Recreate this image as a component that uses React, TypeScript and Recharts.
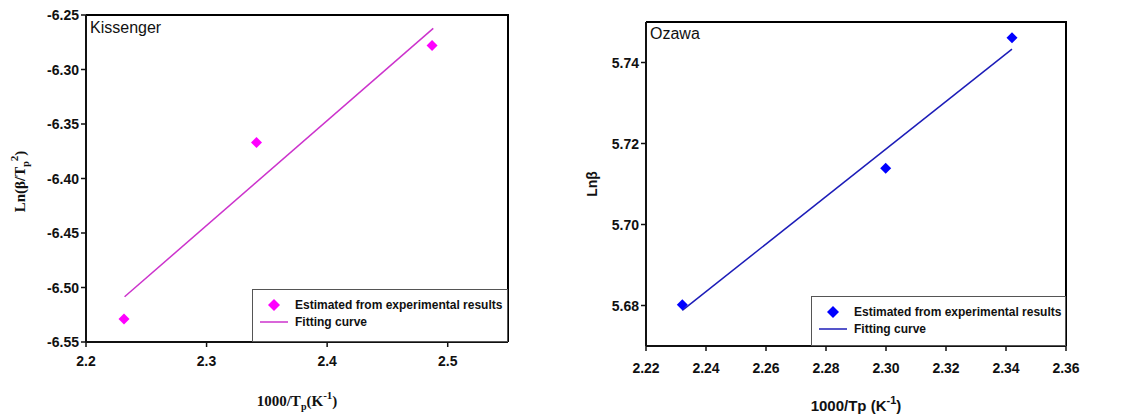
import React from 'react';
import { ComposedChart, Scatter, XAxis, YAxis, ReferenceArea, Legend, Label } from 'recharts';

// Kissenger plot
const kissX = [2.2315, 2.3414, 2.487];
const kissY = [-6.529, -6.367, -6.278];
const kissFitX = [2.232, 2.488];
const kissFitY = [-6.5085, -6.2623];
const kissXTicks = [2.2, 2.3, 2.4, 2.5];
const kissYTicks = [-6.55, -6.5, -6.45, -6.4, -6.35, -6.3, -6.25];

// Ozawa plot
const ozawaX = [2.2321, 2.2999, 2.342];
const ozawaY = [5.6802, 5.7139, 5.7461];
const ozawaFitX = [2.2321, 2.342];
const ozawaFitY = [5.6788, 5.7433];
const ozawaXTicks = [2.22, 2.24, 2.26, 2.28, 2.3, 2.32, 2.34, 2.36];
const ozawaYTicks = [5.68, 5.7, 5.72, 5.74];

const seriesNames = ['Estimated from experimental results', 'Fitting curve'];

const toPoints = (xs: number[], ys: number[]) => xs.map((x, i) => ({ x, y: ys[i] }));

const SANS = '"Liberation Sans", Arial, sans-serif';
const SERIF = '"Liberation Serif", "Times New Roman", serif';

const Diamond = (color: string) => (props: any) => {
  const { cx, cy } = props;
  const r = 5.5;
  return <polygon points={`${cx},${cy - r} ${cx + r},${cy} ${cx},${cy + r} ${cx - r},${cy}`} fill={color} />;
};

const NoDot = () => <g />;

// top and right edges of the plot box
const Frame = (props: any) => {
  const { x, y, width, height } = props;
  return (
    <path
      d={`M${x},${y} L${x + width},${y} L${x + width},${y + height}`}
      fill="none"
      stroke="#000"
      strokeWidth={2}
    />
  );
};

// bold tick text, decimals depend on axis
const BoldTick = (digits: number, axis: 'x' | 'y') => (props: any) => {
  const { x, y, payload } = props;
  const label = Number(payload.value).toFixed(digits);
  if (axis === 'x') {
    return (
      <text x={x} y={y} dy="0.71em" textAnchor="middle" fontFamily={SANS} fontWeight="bold" fontSize={14} fill="#111">
        {label}
      </text>
    );
  }
  return (
    <text x={x} y={y} dy="0.36em" textAnchor="end" fontFamily={SANS} fontWeight="bold" fontSize={14} fill="#111">
      {label}
    </text>
  );
};

const LegendBox = (props: any) => {
  const payload = [...(props.payload || [])].sort((a: any) => (a.type === 'line' ? 1 : -1));
  return (
    <div
      style={{
        boxSizing: 'border-box',
        width: '100%',
        height: '100%',
        border: '1.5px solid #555',
        background: '#fff',
        paddingTop: 7,
        fontFamily: SANS,
        fontWeight: 'bold',
        fontSize: 12,
        color: '#111',
      }}
    >
      {payload.map((p: any) => (
        <div key={p.value} style={{ display: 'flex', alignItems: 'center', height: 16.5 }}>
          <svg width={42} height={16} style={{ flex: 'none' }}>
            {p.type === 'line' ? (
              <line x1={7} x2={35} y1={8} y2={8} stroke={p.color} strokeWidth={1.5} />
            ) : (
              <polygon points="21,2 27,8 21,14 15,8" fill={p.color} />
            )}
          </svg>
          <span style={{ whiteSpace: 'nowrap' }}>{p.value}</span>
        </div>
      ))}
    </div>
  );
};

const Title = (text: string, dy: number) => (props: any) => {
  const { x, y } = props.viewBox;
  return (
    <text x={x + 4} y={y + dy} fontFamily={SANS} fontSize={16} fill="#111">
      {text}
    </text>
  );
};

const KissXLabel = (props: any) => {
  const { x, y, width } = props.viewBox;
  return (
    <text x={x + width / 2} y={y + 64} textAnchor="middle" fontFamily={SERIF} fontWeight="bold" fontSize={15} fill="#111">
      1000/T<tspan fontSize={10} dy={4}>p</tspan>
      <tspan dy={-4}>(K</tspan>
      <tspan fontSize={11} dy={-7}>-1</tspan>
      <tspan dy={7}>)</tspan>
    </text>
  );
};

const KissYLabel = (props: any) => {
  const { x, y, height } = props.viewBox;
  const cx = x + 9;
  const cy = y + height / 2 + 3;
  return (
    <text x={cx} y={cy} transform={`rotate(-90, ${cx}, ${cy})`} textAnchor="middle" fontFamily={SERIF} fontWeight="bold" fontSize={15} fill="#111">
      Ln(β/T<tspan fontSize={10} dy={4}>p</tspan>
      <tspan fontSize={11} dy={-11}>2</tspan>
      <tspan dy={7}>)</tspan>
    </text>
  );
};

const OzawaXLabel = (props: any) => {
  const { x, y, width } = props.viewBox;
  return (
    <text x={x + width / 2} y={y + 65} textAnchor="middle" fontFamily={SANS} fontWeight="bold" fontSize={15} fill="#111">
      1000/Tp (K<tspan fontSize={11} dy={-7}>-1</tspan>
      <tspan dy={7}>)</tspan>
    </text>
  );
};

const OzawaYLabel = (props: any) => {
  const { x, y, height } = props.viewBox;
  const cx = x + 21;
  const cy = y + height / 2;
  return (
    <text x={cx} y={cy} transform={`rotate(-90, ${cx}, ${cy})`} textAnchor="middle" fontFamily={SANS} fontWeight="bold" fontSize={14} fill="#111">
      Lnβ
    </text>
  );
};

const frameAxis = { stroke: '#111', strokeWidth: 2 };
const tickLn = { stroke: '#111', strokeWidth: 1.5 };

const App = () => {
  const kissPts = toPoints(kissX, kissY);
  const kissFit = toPoints(kissFitX, kissFitY);
  const ozawaPts = toPoints(ozawaX, ozawaY);
  const ozawaFit = toPoints(ozawaFitX, ozawaFitY);

  return (
    <div style={{ position: 'absolute', left: 0, top: 0, width: 1122, height: 417, background: '#fff' }}>
      <div style={{ position: 'absolute', left: 0, top: 0, width: 560, height: 417 }}>
        <ComposedChart width={560} height={417} margin={{ top: 15, right: 52, left: 16, bottom: 45 }}>
          <XAxis
            type="number"
            dataKey="x"
            domain={[2.2, 2.55]}
            ticks={kissXTicks}
            tick={BoldTick(1, 'x')}
            tickSize={5}
            tickMargin={9}
            height={30}
            axisLine={frameAxis}
            tickLine={tickLn}
            allowDataOverflow
          >
            <Label content={KissXLabel} />
          </XAxis>
          <YAxis
            type="number"
            dataKey="y"
            domain={[-6.55, -6.25]}
            ticks={kissYTicks}
            tick={BoldTick(2, 'y')}
            tickSize={5}
            width={70}
            axisLine={frameAxis}
            tickLine={tickLn}
            allowDataOverflow
          >
            <Label content={KissYLabel} />
          </YAxis>
          <ReferenceArea x1={2.2} x2={2.55} y1={-6.55} y2={-6.25} shape={Frame} ifOverflow="visible" label={Title('Kissenger', 18)} />
          <Scatter
            name={seriesNames[1]}
            data={kissFit}
            fill="#cc33cc"
            line={{ stroke: '#cc33cc', strokeWidth: 1.5 }}
            shape={NoDot}
            legendType="line"
            isAnimationActive={false}
          />
          <Scatter
            name={seriesNames[0]}
            data={kissPts}
            fill="#ff00ff"
            shape={Diamond('#ff00ff')}
            legendType="diamond"
            isAnimationActive={false}
          />
          <Legend
            layout="vertical"
            align="center"
            verticalAlign="middle"
            content={LegendBox}
            wrapperStyle={{ left: 252, top: 289, width: 256, height: 53 }}
          />
        </ComposedChart>
      </div>

      <div style={{ position: 'absolute', left: 560, top: 0, width: 562, height: 417 }}>
        <ComposedChart width={562} height={417} margin={{ top: 22, right: 56, left: 16, bottom: 41 }}>
          <XAxis
            type="number"
            dataKey="x"
            domain={[2.22, 2.36]}
            ticks={ozawaXTicks}
            tick={BoldTick(2, 'x')}
            tickSize={5}
            tickMargin={12}
            height={30}
            interval={0}
            axisLine={frameAxis}
            tickLine={tickLn}
            allowDataOverflow
          >
            <Label content={OzawaXLabel} />
          </XAxis>
          <YAxis
            type="number"
            dataKey="y"
            domain={[5.67, 5.75]}
            ticks={ozawaYTicks}
            tick={BoldTick(2, 'y')}
            tickSize={5}
            width={70}
            axisLine={frameAxis}
            tickLine={tickLn}
            allowDataOverflow
          >
            <Label content={OzawaYLabel} />
          </YAxis>
          <ReferenceArea x1={2.22} x2={2.36} y1={5.67} y2={5.75} shape={Frame} ifOverflow="visible" label={Title('Ozawa', 17)} />
          <Scatter
            name={seriesNames[1]}
            data={ozawaFit}
            fill="#1c1cb8"
            line={{ stroke: '#1c1cb8', strokeWidth: 1.5 }}
            shape={NoDot}
            legendType="line"
            isAnimationActive={false}
          />
          <Scatter
            name={seriesNames[0]}
            data={ozawaPts}
            fill="#0000ff"
            shape={Diamond('#0000ff')}
            legendType="diamond"
            isAnimationActive={false}
          />
          <Legend
            layout="vertical"
            align="center"
            verticalAlign="middle"
            content={LegendBox}
            wrapperStyle={{ left: 251, top: 296, width: 255, height: 50 }}
          />
        </ComposedChart>
      </div>
    </div>
  );
};

export default App;
